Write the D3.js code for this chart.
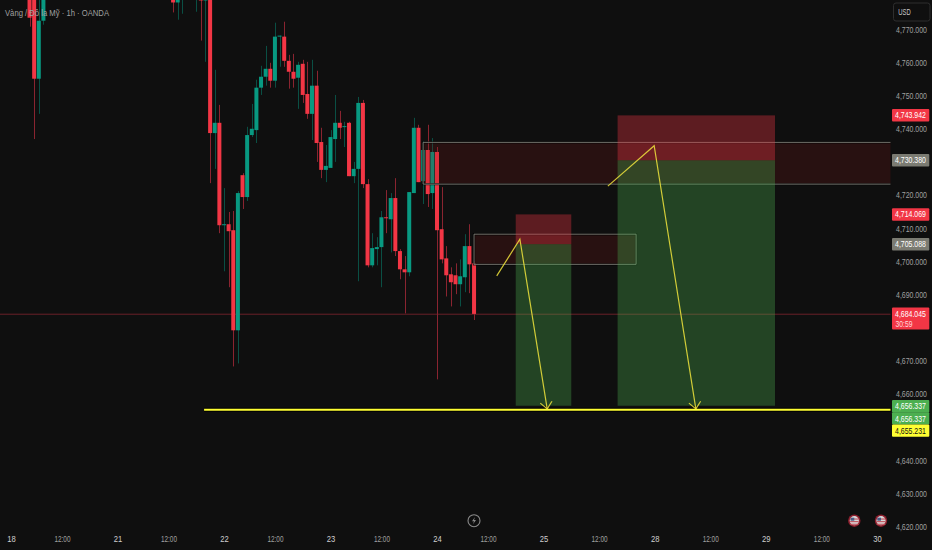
<!DOCTYPE html>
<html><head><meta charset="utf-8">
<style>
html,body{margin:0;padding:0;background:#0f0f0f;overflow:hidden}
svg{display:block}
text{font-family:"Liberation Sans",Arial,sans-serif}
</style>
<script src="https://cdn.jsdelivr.net/npm/d3@7"></script>
</head><body>
<svg id="c" width="932" height="550"></svg>
<script>
// Candles: bar number counted from the "24" session open, then O/H/L/C
const barIndex = [-88,-87,-86,-85,-57,-56,-55,-52,-51,-50,-49,-48,-47,-46,-45,-44,-43,-42,-41,-40,-39,-38,-37,-36,-35,-34,-33,-32,-31,-30,-29,-28,-27,-26,-25,-24,-23,-22,-21,-20,-19,-18,-17,-16,-15,-14,-13,-12,-11,-10,-9,-8,-7,-6,-5,-4,-3,-2,-1,0,1,2,3,4,5,6,7,8];
const opens = [4786,4786,4755.0,4772.5,4786,4778.0,4786,4786,4786,4778.6,4782,4738.6,4741.7,4710.8,4711.1,4709.3,4679.1,4725.9,4719.3,4738.0,4739.5,4752.3,4755.6,4758.0,4754.4,4767.7,4767.7,4760.4,4757.1,4755.3,4759.5,4750.4,4744.4,4752.9,4735.9,4727.5,4728.1,4736.8,4741.7,4740.5,4741.7,4725.6,4727.8,4747.7,4723.2,4698.7,4703.6,4704.2,4713.2,4712.6,4719.0,4703.0,4697.5,4696.6,4720.5,4740.2,4724.1,4733.5,4720.5,4732.9,4709.6,4700.8,4696.0,4695.7,4693.0,4695.1,4704.5,4699.3];
const highs = [4790,4790,4790,4790,4790,4790,4790,4790,4790,4790,4790,4757.7,4747.1,4722.0,4714.8,4715.1,4721.1,4726.5,4740.5,4747.4,4754.7,4758.9,4764.9,4759.8,4771.9,4768.0,4772.2,4762.2,4762.5,4760.1,4760.7,4760.1,4760.7,4757.4,4740.2,4735.0,4739.5,4750.1,4745.3,4742.0,4742.0,4729.9,4749.5,4748.6,4724.7,4708.4,4707.2,4715.1,4721.4,4720.5,4725.0,4703.6,4701.5,4720.8,4743.2,4741.1,4736.2,4741.1,4737.1,4734.4,4722.3,4704.5,4698.1,4699.3,4700.5,4708.1,4711.1,4700.0];
const lows = [4770.7,4736.8,4744.4,4771.3,4775.0,4772.8,4774.6,4775.2,4766.5,4760.1,4723.5,4727.8,4708.4,4696.9,4692.1,4668.2,4669.1,4715.7,4718.1,4737.4,4735.6,4750.1,4752.9,4752.3,4752.3,4758.6,4758.6,4752.0,4752.3,4745.9,4747.7,4742.9,4736.5,4729.9,4725.0,4723.8,4728.1,4729.9,4736.8,4734.4,4725.6,4723.5,4693.9,4722.0,4698.1,4698.1,4698.7,4692.1,4708.4,4702.6,4701.5,4694.5,4684.2,4695.4,4720.5,4723.8,4717.2,4716.3,4715.7,4664.3,4699.3,4689.3,4686.3,4690.0,4686.3,4690.6,4690.3,4682.2];
const closes = [4773.4,4755.0,4772.5,4786,4778.0,4786,4786,4786,4778.6,4786,4738.6,4741.7,4710.8,4711.1,4709.0,4679.1,4720.5,4719.3,4738.0,4739.9,4752.3,4755.6,4758.0,4754.4,4767.7,4768.0,4760.4,4757.1,4755.0,4759.2,4750.1,4744.4,4752.9,4735.6,4727.5,4728.7,4737.4,4741.7,4740.2,4740.7,4725.6,4727.8,4747.7,4723.2,4698.7,4703.9,4704.2,4713.2,4712.9,4719.0,4703.0,4697.5,4696.6,4720.8,4740.2,4723.8,4733.5,4720.2,4732.9,4709.3,4700.5,4695.7,4693.6,4693.0,4695.4,4704.5,4699.0,4684.045];

// Axis ticks (4730, 4680 and 4650 sit behind price tags in the reference)
const priceTicks = [4620,4630,4640,4660,4670,4690,4700,4710,4720,4740,4750,4760,4770];
const timeTickBars = [-92,-81,-69,-58,-46,-35,-23,-12,0,11,23,35,47,59,71,83,95];
const timeTickLabels = ["18","12:00","21","12:00","22","12:00","23","12:00","24","12:00","25","12:00","28","12:00","29","12:00","30"];

// Drawn zones and position tools
const zoneBars = [[-3,null],[8,43]];
const zonePrices = [[4735.8,4723.2],[4708.1,4699.0]];
const positionBars = [[17,29],[39,73]];
const positionStops = [4714.069,4743.942];
const positionEntries = [4705.088,4730.380];
const positionTargets = [4656.337,4656.337];
const targetLinePrice = 4655.231;
const targetLineStart = -50.3;

// Hand-drawn arrows
const arrowBars = [[12.9,17.9,23.8],[36.9,46.9,55.9]];
const arrowPrices = [[4695.5,4706.6,4655.4],[4722.6,4734.8,4655.4]];

// Price tags
const tagValues = [4743.942,4730.380,4714.069,4705.088];
const tagColors = ["#f23645","#7b7b72","#f23645","#7b7b72"];
const lastPrice = 4684.045;
const countdown = "30:59";
const targetTags = [[4656.337,"#4caf50","#ffffff"],[4656.337,"#4caf50","#ffffff"],[4655.231,"#ffff33","#111111"]];

const BG = "#0f0f0f", UP = "#089981", DOWN = "#f23645";
const fmt = d3.format(",.3f");
const svg = d3.select("#c");
const rightEdge = 890.5;

const x = d3.scaleLinear().domain([0,23]).range([437,543.5]);
const y = d3.scaleLinear().domain([4770,4620]).range([29,526.2]);

svg.append("rect").attr("width",932).attr("height",550).attr("fill",BG);

const bars = barIndex.map((b,i)=>({b,o:opens[i],h:highs[i],l:lows[i],c:closes[i]}));
const up = d=>d.c>=d.o;

// last price line (under candles)
svg.append("line").attr("x1",0).attr("x2",rightEdge)
  .attr("y1",y(lastPrice)+.3).attr("y2",y(lastPrice)+.3)
  .attr("stroke","#6a2028").attr("stroke-width",1);

// wicks
svg.append("g").selectAll("line").data(bars).join("line")
  .attr("x1",d=>Math.round(x(d.b))+.5).attr("x2",d=>Math.round(x(d.b))+.5)
  .attr("y1",d=>y(d.h)).attr("y2",d=>y(d.l))
  .attr("stroke",d=>up(d)?"#0a4f44":"#8a2430").attr("stroke-width",1);

// bodies
svg.append("g").selectAll("rect").data(bars).join("rect")
  .attr("x",d=>x(d.b)-2).attr("width",4)
  .attr("y",d=>y(Math.max(d.o,d.c)))
  .attr("height",d=>Math.max(1,Math.abs(y(d.o)-y(d.c))))
  .attr("fill",d=>up(d)?UP:DOWN);

// zones
zoneBars.forEach((zb,i)=>{
  const x0=x(zb[0]), x1=zb[1]===null?rightEdge:x(zb[1]);
  const y0=y(zonePrices[i][0]), y1=y(zonePrices[i][1]);
  svg.append("rect").attr("x",x0).attr("y",y0).attr("width",x1-x0).attr("height",y1-y0)
    .attr("fill","#8a1a1a").attr("fill-opacity",.2);
  const outline = zb[1]===null
    ? `M${x1},${y0}H${x0}V${y1}H${x1}`
    : `M${x0},${y0}H${x1}V${y1}H${x0}Z`;
  svg.append("path").attr("d",outline).attr("fill","none")
    .attr("stroke","#000").attr("stroke-opacity",.7).attr("stroke-width",2.4);
  svg.append("path").attr("d",outline).attr("fill","none")
    .attr("stroke","#8f8f86").attr("stroke-width",1).attr("stroke-opacity",.8);
});

// positions
positionBars.forEach((pb,i)=>{
  const x0=x(pb[0]), x1=x(pb[1]);
  svg.append("rect").attr("x",x0).attr("width",x1-x0)
    .attr("y",y(positionStops[i])).attr("height",y(positionEntries[i])-y(positionStops[i]))
    .attr("fill",DOWN).attr("fill-opacity",.35);
  svg.append("rect").attr("x",x0).attr("width",x1-x0)
    .attr("y",y(positionEntries[i])).attr("height",y(positionTargets[i])-y(positionEntries[i]))
    .attr("fill","#4caf50").attr("fill-opacity",.33);
});

// target line
svg.append("line").attr("x1",x(targetLineStart)).attr("x2",rightEdge)
  .attr("y1",y(targetLinePrice)+.4).attr("y2",y(targetLinePrice)+.4)
  .attr("stroke","#000").attr("stroke-width",4);
svg.append("line").attr("x1",x(targetLineStart)).attr("x2",rightEdge)
  .attr("y1",y(targetLinePrice)+.4).attr("y2",y(targetLinePrice)+.4)
  .attr("stroke","#ffff33").attr("stroke-width",2);

// arrows
const lineGen = d3.line();
arrowBars.forEach((ab,i)=>{
  const pts = ab.map((b,j)=>[x(b),y(arrowPrices[i][j])]);
  svg.append("path").attr("d",lineGen(pts)).attr("fill","none")
    .attr("stroke","#f0e43c").attr("stroke-width",1.2).attr("stroke-opacity",.85);
  const [a,b]=[pts[1],pts[2]];
  const ang=Math.atan2(b[1]-a[1],b[0]-a[0]);
  [-.72,.72].forEach(da=>{
    svg.append("line").attr("x1",b[0]).attr("y1",b[1])
      .attr("x2",b[0]-9*Math.cos(ang+da)).attr("y2",b[1]-9*Math.sin(ang+da))
      .attr("stroke","#f0e43c").attr("stroke-width",1.2).attr("stroke-opacity",.85);
  });
});

// header
svg.append("text").attr("x",5).attr("y",16).attr("font-size",9).attr("fill","#a0a0a0")
  .attr("textLength",104).attr("lengthAdjust","spacingAndGlyphs")
  .text("Vàng / Đô la Mỹ · 1h · OANDA");

// y axis: glyphs narrowed by a horizontal scale so the labels fit the 31px the reference gives them
const yAxis = d3.axisRight(y).tickValues(priceTicks).tickFormat(fmt).tickSize(0).tickPadding(0);
const gy = svg.append("g").attr("transform","translate(911.5,0)").call(yAxis);
gy.select(".domain").remove();
gy.selectAll("text").attr("x",0).attr("text-anchor","middle").attr("font-size",8.8)
  .attr("transform","scale(0.79,1)")
  .attr("fill","#a0a0a0").attr("dy","0.36em");

// x axis
const xAxis = d3.axisBottom(x).tickValues(timeTickBars)
  .tickFormat(d=>timeTickLabels[timeTickBars.indexOf(d)]).tickSize(0).tickPadding(0);
const gx = svg.append("g").attr("transform","translate(0,536)").call(xAxis);
gx.select(".domain").remove();
gx.selectAll("text").attr("font-size",8.8).attr("dy",".71em")
  .attr("fill",(d,i)=>timeTickLabels[i].includes(":")?"#a0a0a0":"#d0d0d0");
gx.selectAll("text").attr("textLength",(d,i)=>timeTickLabels[i].includes(":")?16:8.5)
  .attr("lengthAdjust","spacingAndGlyphs");

// USD box
svg.append("rect").attr("x",893.5).attr("y",3).attr("width",36.5).attr("height",18).attr("rx",2.5)
  .attr("fill",BG).attr("stroke","#2e2e2e");
svg.append("text").attr("x",904.5).attr("y",14.9).attr("text-anchor","middle").attr("font-size",8.4)
  .attr("textLength",12.5).attr("lengthAdjust","spacingAndGlyphs")
  .attr("fill","#c9c9c9").text("USD");

// tags
function tagText(v,color,cy){
  svg.append("text").attr("transform",`translate(910.5,${cy+3.1}) scale(0.79,1)`)
    .attr("text-anchor","middle").attr("font-size",8.8).attr("fill",color).text(fmt(v));
}
function tag(v,fill,color,h,cy){
  svg.append("rect").attr("x",892).attr("width",37.3).attr("y",cy-h/2).attr("height",h).attr("rx",1).attr("fill",fill);
  tagText(v,color,cy);
}
tagValues.forEach((v,i)=>tag(v,tagColors[i],"#ffffff",12.5,y(v)));

// last price tag with countdown
svg.append("rect").attr("x",892).attr("width",37.3).attr("y",y(lastPrice)-6.5).attr("height",22).attr("rx",1).attr("fill",DOWN);
tagText(lastPrice,"#fff",y(lastPrice));
svg.append("text").attr("x",895.5).attr("y",y(lastPrice)+12.8).attr("font-size",8.6).attr("fill","#ffd9dc")
  .attr("textLength",17).attr("lengthAdjust","spacingAndGlyphs").text(countdown);

// target tags
targetTags.forEach((t,i)=>{
  const top = 400 + i*12.2;
  tag(t[0],t[1],t[2],12.4,top+6.2);
});

// bottom icons
const bolt = svg.append("g").attr("transform","translate(474,520.7)");
bolt.append("circle").attr("r",6).attr("fill","none").attr("stroke","#8a8a8a").attr("stroke-width",1.1);
bolt.append("path").attr("d","M1,-3.6L-2,0.6H0L-1,3.6L2,-0.6H0Z").attr("fill","#8a8a8a");

[854.3,881].forEach(cx=>{
  const g=svg.append("g").attr("transform",`translate(${cx},520.7)`);
  g.append("circle").attr("r",6.2).attr("fill","#8e1f2e");
  g.append("circle").attr("r",4.6).attr("fill","#d9d9d9");
  [-2.2,0.4,3].forEach(s=>g.append("rect").attr("x",-4.2).attr("y",s).attr("width",8.4).attr("height",1.1).attr("fill","#c0505a"));
  g.append("rect").attr("x",-3.6).attr("y",-3).attr("width",3.6).attr("height",3).attr("fill","#4a5c86");
});
</script>
</body></html>
